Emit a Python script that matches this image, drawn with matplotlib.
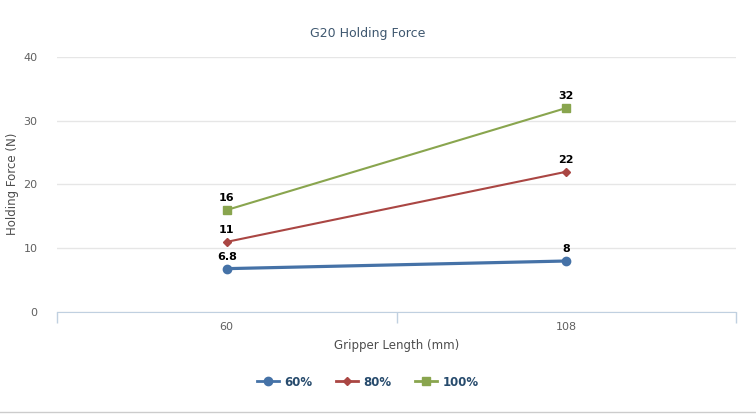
import matplotlib.pyplot as plt
from matplotlib.lines import Line2D

categories = ["60", "108"]
series_names = ["60%", "80%", "100%"]
values_60 = [6.8, 8]
values_80 = [11, 22]
values_100 = [16, 32]
y_ticks = [0, 10, 20, 30, 40]

colors = ["#4572A7", "#AA4643", "#89A54E"]
markers = ["o", "D", "s"]
msizes = [6, 4, 6]
widths = [2.3, 1.5, 1.5]

fig = plt.figure(figsize=(7.56, 4.15), dpi=100)
ax = fig.add_axes([57 / 756, 103 / 415, 679 / 756, 255 / 415])

x = list(range(len(categories)))
all_values = [values_60, values_80, values_100]
for name, vals, c, m, ms, lw in zip(series_names, all_values, colors, markers, msizes, widths):
    ax.plot(x, vals, color=c, marker=m, markersize=ms, linewidth=lw, label=name,
            zorder=3, clip_on=False)
    for xi, v in zip(x, vals):
        ax.annotate(f"{v:g}", (xi, v), xytext=(0, 5), textcoords="offset points",
                    ha="center", va="bottom", fontsize=8, fontweight="bold", color="black")

ax.set_xlim(-0.5, len(categories) - 0.5)
ax.set_ylim(0, 40)
ax.set_yticks(y_ticks)
ax.set_xticks(x)
ax.set_xticklabels(categories)
ax.set_xticks([-0.5, 0.5, 1.5], minor=True)
ax.tick_params(axis="x", which="major", length=0, pad=7, labelsize=8, labelcolor="#606060")
ax.tick_params(axis="x", which="minor", length=8, color="#C0D0E0", width=1)
ax.tick_params(axis="y", length=0, pad=14, labelsize=8, labelcolor="#606060")
ax.grid(axis="y", color="#e6e6e6", linewidth=1)
ax.set_axisbelow(True)
for s in ["top", "right", "left"]:
    ax.spines[s].set_visible(False)
ax.spines["bottom"].set_color("#C0D0E0")

fig.text(13 / 756, 1 - 184 / 415, "Holding Force (N)", rotation=90, ha="center", va="center",
         fontsize=8.5, color="#4d4d4d")
ax.set_xlabel("Gripper Length (mm)", fontsize=8.5, color="#4d4d4d", labelpad=5)
fig.text(368 / 756, 1 - 34 / 415, "G20 Holding Force", ha="center", va="center",
         fontsize=9, color="#3E576F")

handles = [Line2D([0], [0], color=c, marker=m, markersize=ms, linewidth=2)
           for c, m, ms in zip(colors, markers, msizes)]
leg = fig.legend(handles, series_names, loc="center", bbox_to_anchor=(368 / 756, 1 - 382 / 415),
                 ncol=3, frameon=False, handlelength=1.8, columnspacing=2.0, handletextpad=0.5,
                 prop={"size": 8.5, "weight": "bold"})
for t in leg.get_texts():
    t.set_color("#274b6d")

fig.add_artist(Line2D([0, 1], [3 / 415, 3 / 415], color="#cccccc", linewidth=1))

fig.savefig("out.png", dpi=100)
